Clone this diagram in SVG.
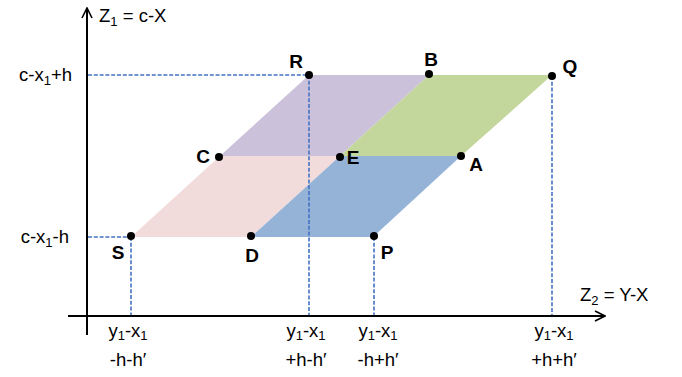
<svg xmlns="http://www.w3.org/2000/svg" width="682" height="377" viewBox="0 0 682 377">
<defs>
<marker id="arr" viewBox="0 0 12 12" refX="11" refY="6" markerWidth="12" markerHeight="12" markerUnits="userSpaceOnUse" orient="auto">
<path d="M1,1 L11,6 L1,11" fill="none" stroke="#000" stroke-width="1.6"/>
</marker>
</defs>
<style>
.t{font-family:"Liberation Sans",Arial,sans-serif;font-size:18.5px;fill:#000}
.b{font-family:"Liberation Sans",Arial,sans-serif;font-size:19px;font-weight:bold;fill:#000}
.s{font-size:13px}
.d{stroke:#4472C4;stroke-width:1.6;stroke-dasharray:4,1.8;fill:none}
.ax{stroke:#000;stroke-width:2;fill:none}
.pt{fill:#000}
</style>
<g id="regions">
<polygon id="pink" points="131,237 220,156 340,156 251,237" fill="#F2DCDB"/>
<polygon id="blue" points="251,237 340,156 461,156 373,237" fill="#95B3D7"/>
<polygon id="purple" points="220,156 309,75 429,75 340,156" fill="#CCC1DA"/>
<polygon id="green" points="340,156 429,75 552,75 461,156" fill="#C3D69B"/>
</g>
<g id="connectors">
<line class="ax" x1="87" y1="335" x2="87" y2="8" marker-end="url(#arr)"/>
<line class="ax" x1="68" y1="316" x2="605" y2="316" marker-end="url(#arr)"/>
<line class="d" x1="88" y1="75" x2="309" y2="75"/>
<line class="d" x1="88" y1="237" x2="131" y2="237"/>
<line class="d" x1="131" y1="237" x2="131" y2="315"/>
<line class="d" x1="309" y1="75" x2="309" y2="315"/>
<line class="d" x1="374" y1="237" x2="374" y2="315"/>
<line class="d" x1="552" y1="76" x2="552" y2="315"/>
</g>
<g id="points">
<g id="R"><circle class="pt" cx="309" cy="75" r="4"/><text class="b" x="296" y="68" text-anchor="middle">R</text></g>
<g id="B"><circle class="pt" cx="429" cy="74" r="4"/><text class="b" x="431" y="66" text-anchor="middle">B</text></g>
<g id="Q"><circle class="pt" cx="552" cy="76" r="4"/><text class="b" x="570" y="73" text-anchor="middle">Q</text></g>
<g id="C"><circle class="pt" cx="219" cy="157" r="4"/><text class="b" x="203" y="163" text-anchor="middle">C</text></g>
<g id="E"><circle class="pt" cx="340" cy="157" r="4"/><text class="b" x="353" y="164" text-anchor="middle">E</text></g>
<g id="A"><circle class="pt" cx="461" cy="156" r="4"/><text class="b" x="476" y="171" text-anchor="middle">A</text></g>
<g id="S"><circle class="pt" cx="131" cy="236" r="4"/><text class="b" x="118" y="259" text-anchor="middle">S</text></g>
<g id="D"><circle class="pt" cx="251" cy="236" r="4"/><text class="b" x="252" y="262" text-anchor="middle">D</text></g>
<g id="P"><circle class="pt" cx="374" cy="236" r="4"/><text class="b" x="387" y="259" text-anchor="middle">P</text></g>
</g>
<g id="labels">
<text class="t" x="99" y="22">Z<tspan class="s" dy="4">1</tspan><tspan dy="-4"> = c-X</tspan></text>
<text class="t" x="72" y="81" text-anchor="end">c-x<tspan class="s" dy="4">1</tspan><tspan dy="-4">+h</tspan></text>
<text class="t" x="69" y="243" text-anchor="end">c-x<tspan class="s" dy="4">1</tspan><tspan dy="-4">-h</tspan></text>
<text class="t" x="580" y="301">Z<tspan class="s" dy="4">2</tspan><tspan dy="-4"> = Y-X</tspan></text>
<text class="t" x="128" y="337" text-anchor="middle">y<tspan class="s" dy="3">1</tspan><tspan dy="-3">-x</tspan><tspan class="s" dy="3">1</tspan></text>
<text class="t" x="306" y="337" text-anchor="middle">y<tspan class="s" dy="3">1</tspan><tspan dy="-3">-x</tspan><tspan class="s" dy="3">1</tspan></text>
<text class="t" x="378" y="337" text-anchor="middle">y<tspan class="s" dy="3">1</tspan><tspan dy="-3">-x</tspan><tspan class="s" dy="3">1</tspan></text>
<text class="t" x="554" y="337" text-anchor="middle">y<tspan class="s" dy="3">1</tspan><tspan dy="-3">-x</tspan><tspan class="s" dy="3">1</tspan></text>
<text class="t" x="128" y="366" text-anchor="middle">-h-h′</text>
<text class="t" x="306" y="366" text-anchor="middle">+h-h′</text>
<text class="t" x="378" y="366" text-anchor="middle">-h+h′</text>
<text class="t" x="554" y="366" text-anchor="middle">+h+h′</text>
</g>
</svg>
